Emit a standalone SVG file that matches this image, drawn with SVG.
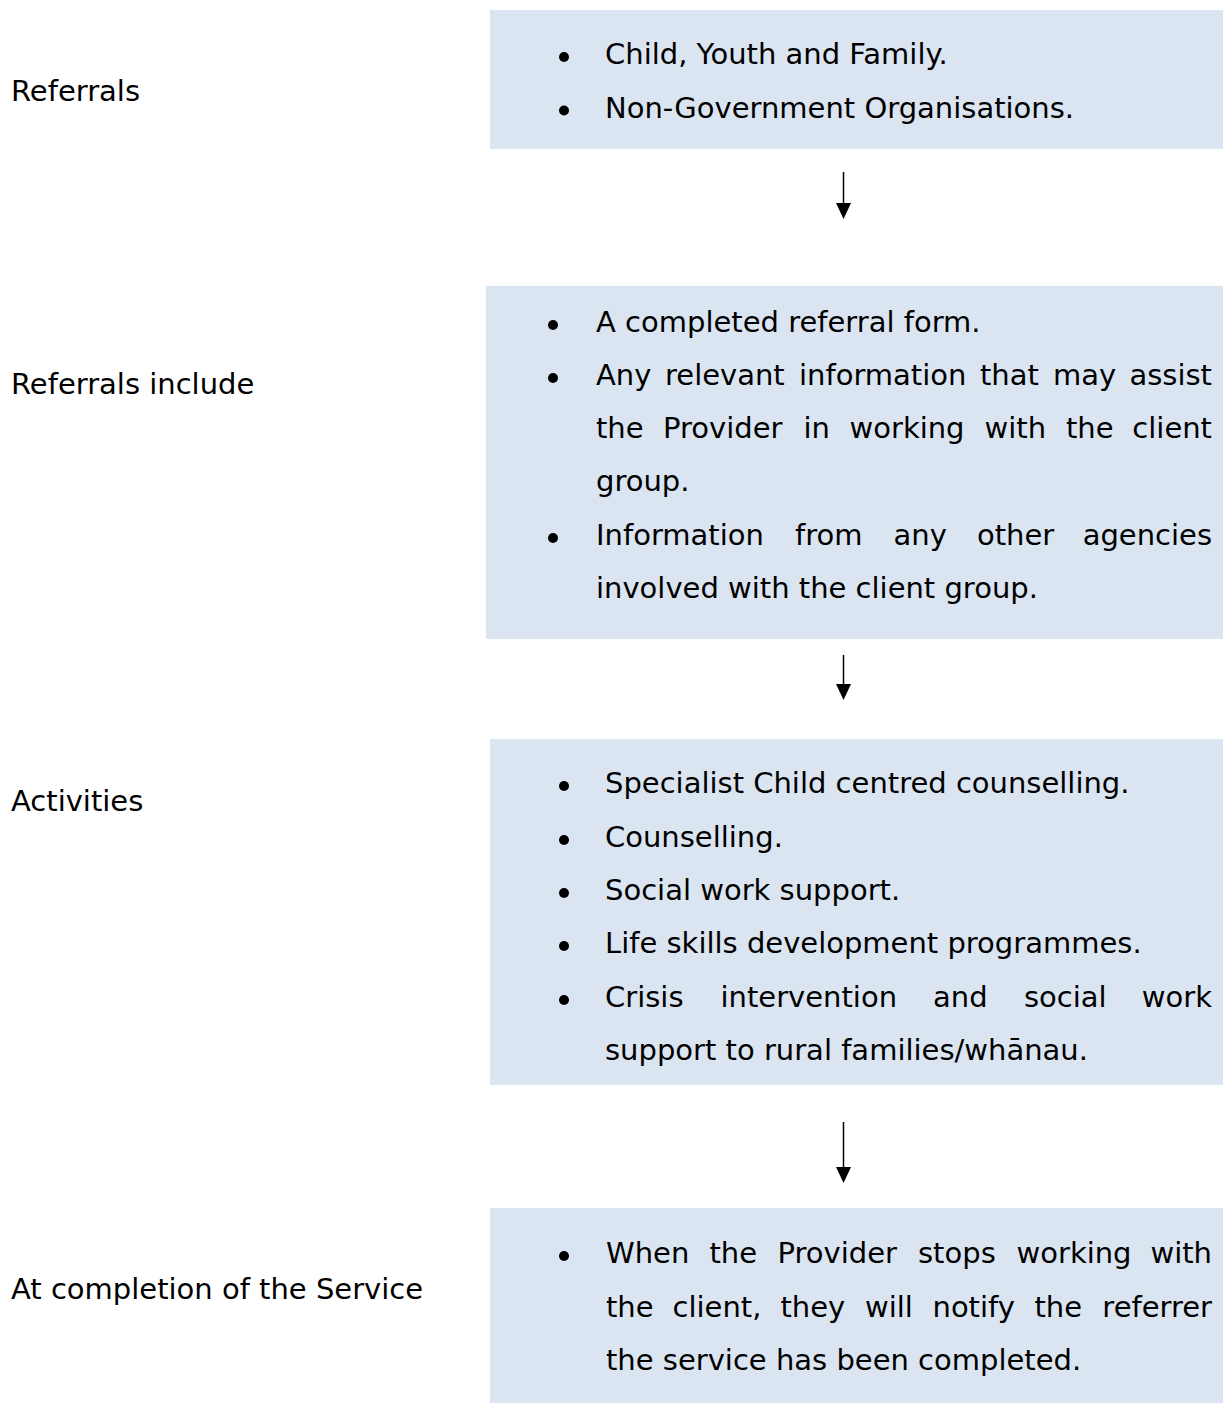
<svg xmlns="http://www.w3.org/2000/svg" width="1223" height="1403" viewBox="0 0 1223 1403">
<style>
  .box { fill: #DBE5F1; }
  .t { font-family: "DejaVu Sans", Verdana, sans-serif; font-size: 29px; fill: #000; }
  .lbl { font-family: "DejaVu Sans", Verdana, sans-serif; font-size: 29px; fill: #000; }
  .dot { fill: #000; }
  .conn { stroke: #000; stroke-width: 1.5; fill: none; }
</style>
<defs>
  <marker id="ah" markerUnits="userSpaceOnUse" markerWidth="16" markerHeight="16" refX="0" refY="7.5" orient="auto">
    <path d="M0,0 L16,7.5 L0,15 z" fill="#000"/>
  </marker>
</defs>
<rect width="1223" height="1403" fill="#fff"/>

<g id="labels">
  <text class="lbl" x="11" y="101">Referrals</text>
  <text class="lbl" x="11" y="394">Referrals include</text>
  <text class="lbl" x="11" y="811">Activities</text>
  <text class="lbl" x="11" y="1299">At completion of the Service</text>
</g>

<g id="node-referrals">
  <rect class="box" x="490" y="10" width="733" height="139"/>
  <circle class="dot" cx="564" cy="57" r="5"/>
  <text class="t" x="605" y="64">Child, Youth and Family.</text>
  <circle class="dot" cx="564" cy="110.5" r="5"/>
  <text class="t" x="605" y="117.5">Non-Government Organisations.</text>
</g>

<g id="node-referrals-include">
  <rect class="box" x="486" y="286" width="737" height="353"/>
  <circle class="dot" cx="553" cy="325" r="5"/>
  <text class="t" x="596" y="332">A completed referral form.</text>
  <circle class="dot" cx="553" cy="378" r="5"/>
  <text class="t" y="385"><tspan x="596">Any</tspan><tspan x="665">relevant</tspan><tspan x="799">information</tspan><tspan x="980">that</tspan><tspan x="1053">may</tspan><tspan x="1212" text-anchor="end">assist</tspan></text>
  <text class="t" y="438"><tspan x="596">the</tspan><tspan x="663">Provider</tspan><tspan x="803.5">in</tspan><tspan x="849.5">working</tspan><tspan x="984.5">with</tspan><tspan x="1066">the</tspan><tspan x="1212" text-anchor="end">client</tspan></text>
  <text class="t" x="596" y="491">group.</text>
  <circle class="dot" cx="553" cy="538" r="5"/>
  <text class="t" y="545"><tspan x="596">Information</tspan><tspan x="795">from</tspan><tspan x="893.5">any</tspan><tspan x="977">other</tspan><tspan x="1212" text-anchor="end">agencies</tspan></text>
  <text class="t" x="596" y="598">involved with the client group.</text>
</g>

<g id="node-activities">
  <rect class="box" x="490" y="739" width="733" height="346"/>
  <circle class="dot" cx="564" cy="786" r="5"/>
  <text class="t" x="605" y="793">Specialist Child centred counselling.</text>
  <circle class="dot" cx="564" cy="840" r="5"/>
  <text class="t" x="605" y="847">Counselling.</text>
  <circle class="dot" cx="564" cy="893" r="5"/>
  <text class="t" x="605" y="900">Social work support.</text>
  <circle class="dot" cx="564" cy="946" r="5"/>
  <text class="t" x="605" y="953">Life skills development programmes.</text>
  <circle class="dot" cx="564" cy="1000" r="5"/>
  <text class="t" y="1007"><tspan x="605">Crisis</tspan><tspan x="720.5">intervention</tspan><tspan x="933">and</tspan><tspan x="1024">social</tspan><tspan x="1212" text-anchor="end">work</tspan></text>
  <text class="t" x="605" y="1060">support to rural families/whānau.</text>
</g>

<g id="node-completion">
  <rect class="box" x="490" y="1208" width="733" height="195"/>
  <circle class="dot" cx="564" cy="1256" r="5"/>
  <text class="t" y="1263"><tspan x="606">When</tspan><tspan x="709.5">the</tspan><tspan x="777.5">Provider</tspan><tspan x="918">stops</tspan><tspan x="1016.5">working</tspan><tspan x="1212" text-anchor="end">with</tspan></text>
  <text class="t" y="1317"><tspan x="606">the</tspan><tspan x="672.5">client,</tspan><tspan x="780.5">they</tspan><tspan x="865">will</tspan><tspan x="932.5">notify</tspan><tspan x="1034.5">the</tspan><tspan x="1212" text-anchor="end">referrer</tspan></text>
  <text class="t" x="606" y="1370">the service has been completed.</text>
</g>

<g id="connectors">
  <path class="conn" d="M843.5,172 L843.5,203" marker-end="url(#ah)"/>
  <path class="conn" d="M843.5,655 L843.5,684" marker-end="url(#ah)"/>
  <path class="conn" d="M843.5,1122 L843.5,1167" marker-end="url(#ah)"/>
</g>
</svg>
